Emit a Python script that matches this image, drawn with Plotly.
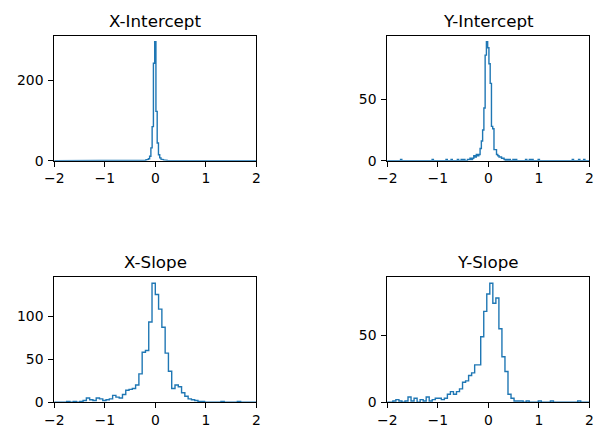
import plotly.graph_objects as go

# ---------------- data ----------------
titles = ["X-Intercept", "Y-Intercept", "X-Slope", "Y-Slope"]

# histogram bin starts / widths (bin edges = start + width*k)
xint_start, xint_width = -2.0125, 0.025
yint_start, yint_width = -2.0125, 0.025
xslope_start, xslope_width = -2.015, 0.065
yslope_start, yslope_width = -2.01, 0.06

xint_counts = [
    0, 0, 0, 0, 0, 0, 0, 0, 0, 0, 0, 0, 0, 0, 0, 0, 0, 0, 0, 0,
    0, 0, 0, 0, 0, 0, 0, 0, 0, 0, 0, 0, 0, 0, 0, 0, 0, 0, 0, 0,
    0, 0, 0, 0, 0, 0, 0, 0, 0, 0, 0, 0, 0, 0, 0, 0, 0, 0, 0, 0,
    0, 0, 0, 0, 0, 0, 1, 0, 0, 1, 0, 0, 1, 2, 3, 5, 11, 32, 85, 243,
    297, 123, 44, 15, 7, 4, 3, 2, 1, 1, 0, 0, 0, 0, 0, 1, 0, 0, 0, 0,
    0, 0, 0, 0, 0, 0, 0, 0, 0, 0, 0, 0, 0, 0, 0, 0, 0, 0, 0, 0,
    0, 0, 0, 0, 0, 0, 0, 0, 0, 0, 0, 0, 0, 0, 0, 0, 0, 0, 0, 0,
    0, 0, 0, 0, 0, 0, 0, 0, 0, 0, 0, 0, 0, 0, 0, 0, 0, 0, 0, 0,
    0,
]

yint_counts = [
    0, 0, 0, 0, 0, 0, 0, 0, 0, 0, 0, 1, 0, 0, 0, 0, 0, 0, 0, 0,
    0, 0, 0, 0, 0, 0, 0, 0, 0, 0, 0, 0, 0, 0, 0, 0, 1, 0, 0, 0,
    0, 0, 0, 0, 0, 0, 0, 1, 0, 0, 0, 1, 0, 0, 0, 0, 1, 0, 0, 1,
    0, 1, 0, 0, 1, 1, 2, 1, 2, 4, 3, 5, 4, 5, 10, 16, 25, 43, 86, 97,
    92, 79, 63, 28, 26, 9, 9, 5, 4, 3, 3, 2, 2, 1, 0, 1, 0, 1, 0, 0,
    1, 0, 1, 0, 0, 0, 0, 0, 0, 0, 1, 0, 0, 1, 0, 1, 0, 0, 0, 0,
    1, 0, 0, 0, 0, 0, 0, 0, 0, 0, 0, 0, 0, 0, 0, 0, 0, 0, 0, 0,
    0, 0, 0, 0, 0, 0, 0, 1, 0, 0, 0, 0, 1, 0, 0, 0, 1, 0, 0, 0,
    0,
]

xslope_counts = [
    0, 0, 0, 0, 1, 0, 1, 0, 1, 2, 5, 3, 2, 5, 4, 2, 3, 4, 8, 6,
    5, 9, 14, 15, 16, 20, 33, 58, 60, 93, 138, 125, 108, 87, 57, 36, 16, 20, 18, 11,
    7, 4, 3, 2, 1, 1, 0, 0, 0, 0, 0, 1, 0, 0, 0, 0, 1, 0, 0, 0,
    0, 0,
]

yslope_counts = [
    0, 0, 1, 2, 1, 0, 1, 4, 1, 3, 0, 2, 1, 4, 1, 2, 3, 3, 2, 3,
    6, 8, 6, 8, 10, 15, 16, 20, 22, 28, 28, 49, 68, 81, 89, 74, 78, 55, 34, 23,
    6, 3, 1, 1, 1, 0, 1, 0, 0, 0, 1, 0, 0, 0, 1, 0, 0, 0, 0, 0,
    0, 0, 0, 1, 0, 0, 0,
]

x_ticks = [-2, -1, 0, 1, 2]
x_ticklabels = ["\u22122", "\u22121", "0", "1", "2"]
y_ticks = [[0, 200], [0, 50], [0, 50, 100], [0, 50]]

# ---------------- figure ----------------
W, H = 594, 430
panels = [
    (xint_start, xint_width, xint_counts),
    (yint_start, yint_width, yint_counts),
    (xslope_start, xslope_width, xslope_counts),
    (yslope_start, yslope_width, yslope_counts),
]

# axes boxes in pixels: (left, right, top, bottom)
boxes = [
    (54.3, 256.3, 35.7, 160.7),
    (387.3, 589.3, 35.7, 160.7),
    (54.3, 256.3, 277.3, 402.3),
    (387.3, 589.3, 277.3, 402.3),
]


def step_xy(start, width, counts):
    edges = [start + width * k for k in range(len(counts) + 1)]
    xs, ys = [edges[0]], [0]
    for i, c in enumerate(counts):
        xs += [edges[i], edges[i + 1]]
        ys += [c, c]
    xs.append(edges[-1])
    ys.append(0)
    return xs, ys


fig = go.Figure()
font_tick = dict(family="DejaVu Sans", size=13.9, color="black")
annotations = []
for i, ((start, width, counts), (l, r, t, b)) in enumerate(zip(panels, boxes)):
    n = "" if i == 0 else str(i + 1)
    xs, ys = step_xy(start, width, counts)
    fig.add_trace(go.Scatter(
        x=xs, y=ys, mode="lines",
        line=dict(color="#1f77b4", width=1.4),
        xaxis="x" + n, yaxis="y" + n, showlegend=False, hoverinfo="skip",
    ))
    common = dict(showline=True, linecolor="black", linewidth=1, mirror=True,
                  ticks="outside", ticklen=5, tickwidth=1, tickcolor="black",
                  showgrid=False, zeroline=False, tickfont=font_tick,
                  automargin=False)
    fig.layout["xaxis" + n] = dict(
        domain=[l / W, r / W], anchor="y" + n, range=[-2, 2],
        tickvals=x_ticks, ticktext=x_ticklabels, **common)
    fig.layout["yaxis" + n] = dict(
        domain=[1 - b / H, 1 - t / H], anchor="x" + n,
        range=[0, max(counts) * 1.05], tickvals=y_ticks[i],
        ticklabelstandoff=2, **common)
    annotations.append(dict(
        text=titles[i], x=(l + r) / 2 / W, y=1 - t / H, xref="paper", yref="paper",
        xanchor="center", yanchor="bottom", yshift=3, showarrow=False,
        font=dict(family="DejaVu Sans", size=16.7, color="black")))

fig.update_layout(
    template="none",
    width=W, height=H, margin=dict(l=0, r=0, t=0, b=0, autoexpand=False),
    paper_bgcolor="white", plot_bgcolor="white",
    annotations=annotations,
)

fig.write_html("out.html")
